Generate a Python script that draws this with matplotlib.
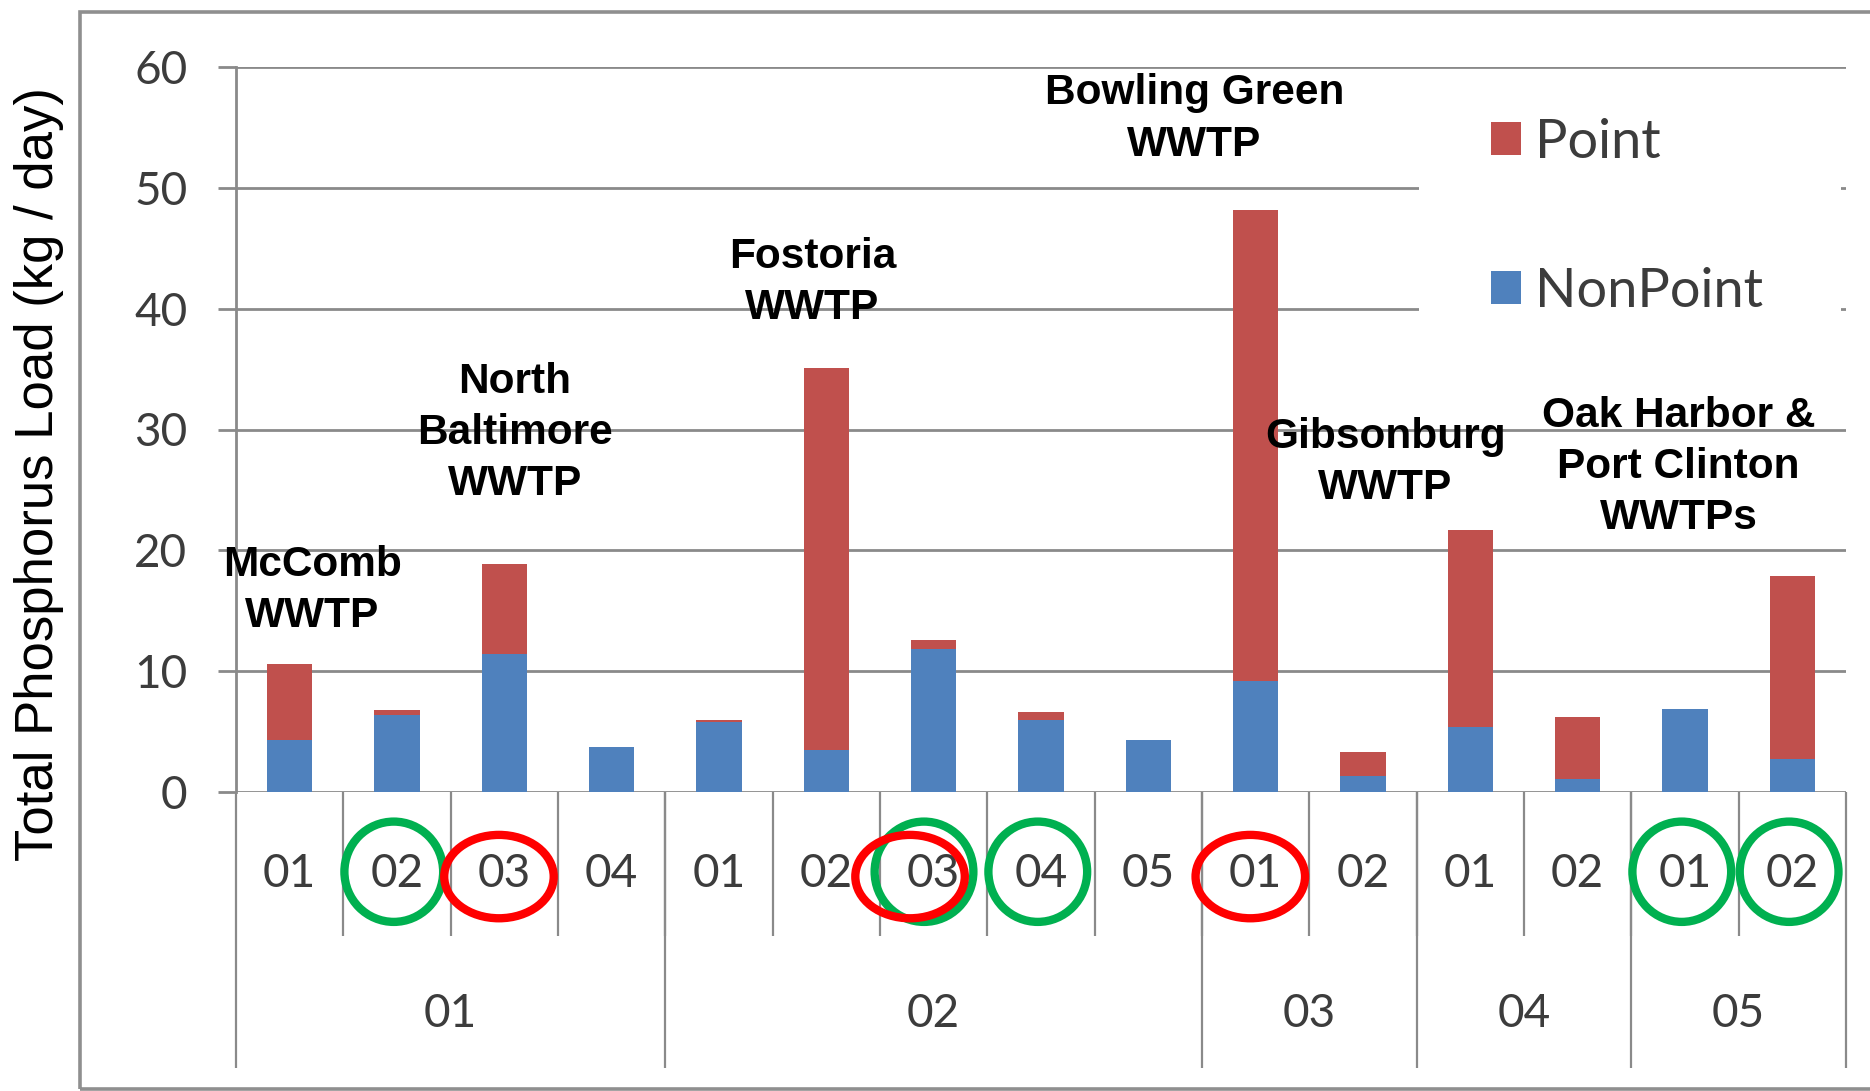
"""Total phosphorus load by subwatershed, point vs nonpoint, with WWTP callouts."""
import matplotlib
matplotlib.use("Agg")
import matplotlib.pyplot as plt
from matplotlib.patches import Ellipse, Rectangle
import numpy as np

# subwatershed codes (outer group / inner unit)
groups = ["01", "01", "01", "01", "02", "02", "02", "02", "02",
          "03", "03", "04", "04", "05", "05"]
units = ["01", "02", "03", "04", "01", "02", "03", "04", "05",
         "01", "02", "01", "02", "01", "02"]

# kg / day
nonpoint = [4.3, 6.4, 11.4, 3.7, 5.8, 3.5, 11.8, 6.0, 4.3, 9.2, 1.3, 5.4, 1.1, 6.9, 2.7]
point = [6.3, 0.4, 7.5, 0.0, 0.2, 31.6, 0.8, 0.6, 0.0, 39.0, 2.0, 16.3, 5.1, 0.0, 15.2]

plants = ["McComb\nWWTP", "North\nBaltimore\nWWTP", "Fostoria\nWWTP",
          "Bowling Green\nWWTP", "Gibsonburg\nWWTP",
          "Oak Harbor &\nPort Clinton\nWWTPs"]

circled_green = [1, 6, 7, 13, 14]
circled_red = [2, 6, 9]

RED = "#C0504D"
BLUE = "#4F81BD"
GRID = "#8a8a8a"
TICK = "#3c3c3c"
TICK_FONT = ["Lato", "DejaVu Sans"]

W, H = 1870, 1091
fig = plt.figure(figsize=(W / 100, H / 100), dpi=100)
# outer chart border
fig.patches.append(Rectangle((80 / W, 2 / H), 1.2, (1079 - 2) / H, transform=fig.transFigure,
                             fill=False, edgecolor="#8f8f8f", linewidth=2.6))

ax = fig.add_axes([236 / W, 1 - 792 / H, (1846 - 236) / W, (792 - 67) / H])
x = np.arange(len(units))
ax.bar(x, nonpoint, width=0.42, color=BLUE, label="NonPoint", zorder=3)
ax.bar(x, point, width=0.42, bottom=nonpoint, color=RED, label="Point", zorder=3)

ax.set_xlim(-0.5, len(units) - 0.5)
ax.set_ylim(0, 60)
ax.set_yticks(range(0, 61, 10))
ax.yaxis.grid(True, color=GRID, linewidth=2.0, zorder=0)
ax.set_axisbelow(True)
for s in ("top", "right", "bottom"):
    ax.spines[s].set_visible(False)
ax.spines["left"].set_color(GRID)
ax.spines["left"].set_linewidth(2.0)
ax.tick_params(axis="y", length=13, width=2.0, color=GRID, pad=22,
               labelsize=33, labelcolor=TICK)
for lbl in ax.get_yticklabels():
    lbl.set_family(TICK_FONT)
ax.set_xticks([])

# two-level category axis
ax.vlines(np.arange(len(units) - 1) + 0.5, -11.9, 0, color=GRID, linewidth=1.6, clip_on=False)
bounds = [-0.5] + [i + 0.5 for i in range(len(groups) - 1) if groups[i] != groups[i + 1]] + [len(groups) - 0.5]
ax.vlines(bounds, -22.8, 0, color=GRID, linewidth=1.6, clip_on=False)
for i, u in enumerate(units):
    ax.text(i, -6.8, u, ha="center", va="center", fontsize=33, color=TICK,
            family=TICK_FONT, clip_on=False)
for lo, hi in zip(bounds[:-1], bounds[1:]):
    ax.text((lo + hi) / 2, -18.4, groups[int(lo + 0.5)], ha="center", va="center",
            fontsize=33, color=TICK, family=TICK_FONT, clip_on=False)

# highlighted subwatersheds
for i in circled_green:
    ax.add_patch(Ellipse((i - (0.09 if i == 6 else 0.03), -6.6), 0.92, 8.3, fill=False,
                         edgecolor="#00B050", linewidth=6, clip_on=False, zorder=5))
for i in circled_red:
    ax.add_patch(Ellipse((i - (0.22 if i == 6 else 0.05), -7.0), 1.02, 6.9, fill=False,
                         edgecolor="#FF0000", linewidth=6, clip_on=False, zorder=6))

# treatment plant callouts
spots = [(0.21, 16.7), (2.1, 29.7), (4.87, 42.2), (8.43, 55.7), (10.21, 27.3), (12.94, 26.9)]
for name, (px, py) in zip(plants, spots):
    ax.text(px, py, name, ha="center", va="center", fontsize=30.5, fontweight="bold",
            family=["Liberation Sans", "DejaVu Sans"], linespacing=1.36, zorder=7)

# legend sits on a white panel that breaks the gridlines
ax.add_patch(Rectangle((0.735, 0.60), 0.262, 0.37, transform=ax.transAxes,
                       facecolor="white", edgecolor="none", zorder=1))
handles, labels = ax.get_legend_handles_labels()
leg = ax.legend(handles[::-1], labels[::-1], loc="upper left", bbox_to_anchor=(0.7795, 0.93),
                borderaxespad=0, borderpad=0, frameon=False,
                handlelength=0.55, handleheight=0.55, handletextpad=0.26,
                labelspacing=1.85, prop={"family": TICK_FONT, "size": 39})
for t in leg.get_texts():
    t.set_color(TICK)

fig.text(39 / W, 1 - 474 / H, "Total Phosphorus Load (kg / day)", rotation=90,
         ha="center", va="center", fontsize=38, family=["Liberation Sans", "DejaVu Sans"])

fig.savefig("out.png", dpi=100)
